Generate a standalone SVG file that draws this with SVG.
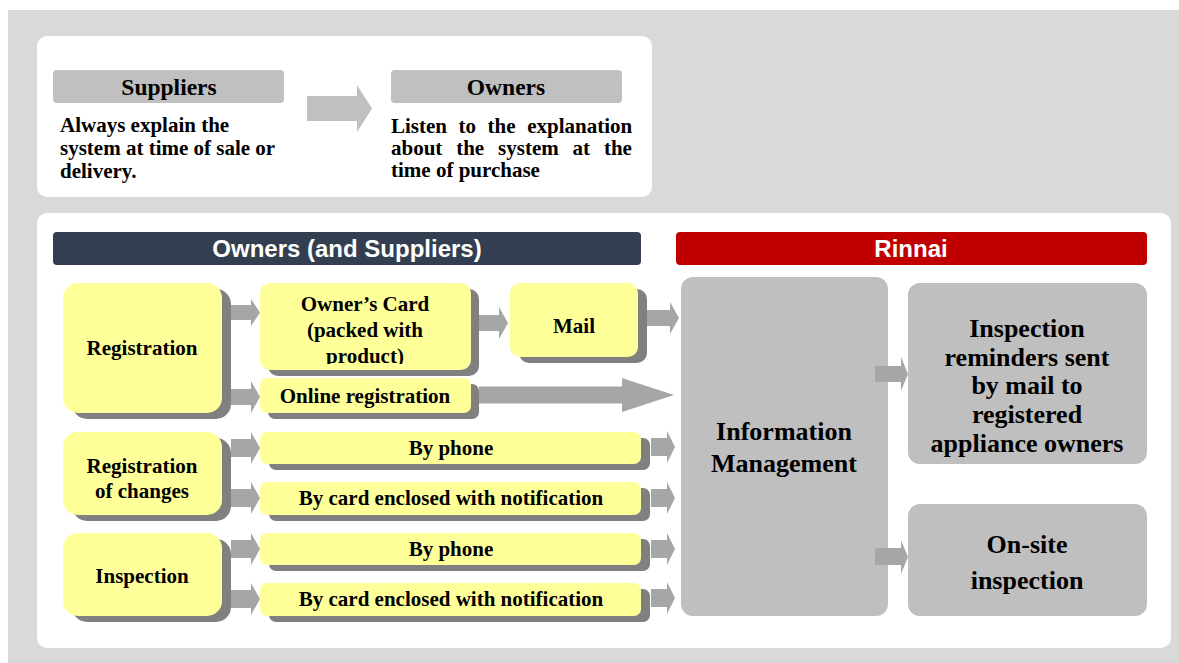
<svg xmlns="http://www.w3.org/2000/svg" width="1179" height="663" viewBox="0 0 1179 663">
<defs>
<style>
.panel{fill:#ffffff}
.hdr{fill:#c0c0c0}
.yb{fill:#ffff99}
.sh{fill:#808080}
.gb{fill:#bfbfbf}
.ar{fill:#a6a6a6}
.t{font-family:"Liberation Serif","Times New Roman",serif;font-weight:bold;font-size:21px;fill:#000}
.tc{text-anchor:middle}
.tl{font-size:26px}
.th{font-size:23.5px}
.h{font-family:"Liberation Sans",Arial,sans-serif;font-weight:bold;font-size:24px;fill:#ffffff;text-anchor:middle}
</style>
<clipPath id="cardClip"><rect x="260" y="283" width="211" height="81"/></clipPath>
</defs>
<rect x="0" y="0" width="1179" height="663" fill="#ffffff"/>
<rect x="8" y="10" width="1171" height="653" fill="#d9d9d9"/>
<rect class="panel" x="37" y="36" width="615" height="161" rx="10"/>
<rect class="panel" x="37" y="213" width="1134" height="435" rx="10"/>

<g id="suppliers">
<rect class="hdr" x="53" y="70" width="231" height="33" rx="4"/>
<text class="t tc th" x="169" y="95">Suppliers</text>
<text class="t" x="60" y="132">Always explain the</text>
<text class="t" x="60" y="155">system at time of sale or</text>
<text class="t" x="60" y="178">delivery.</text>
</g>
<g id="owners">
<rect class="hdr" x="391" y="70" width="231" height="33" rx="4"/>
<text class="t tc th" x="506" y="95">Owners</text>
<text class="t" x="391" y="133" word-spacing="6.3">Listen to the explanation</text>
<text class="t" x="391" y="155" word-spacing="8.6">about the system at the</text>
<text class="t" x="391" y="177">time of purchase</text>
</g>

<g id="header-owners">
<rect x="53" y="232" width="588" height="33" rx="4" fill="#333f50"/>
<text class="h" x="347" y="257">Owners (and Suppliers)</text>
</g>
<g id="header-rinnai">
<rect x="676" y="232" width="471" height="33" rx="4" fill="#c00000"/>
<text class="h" x="911" y="257">Rinnai</text>
</g>

<g id="registration">
<rect class="sh" x="72" y="289" width="159" height="130" rx="15"/>
<rect class="yb" x="63" y="283" width="159" height="130" rx="15"/>
<text class="t tc" x="142" y="355">Registration</text>
</g>
<g id="owners-card">
<rect class="sh" x="268" y="289" width="211" height="87" rx="10"/>
<rect class="yb" x="260" y="283" width="211" height="87" rx="10"/>
<text class="t tc" clip-path="url(#cardClip)"><tspan x="365" y="311">Owner’s Card</tspan><tspan x="365" y="337">(packed with</tspan><tspan x="365" y="363">product)</tspan></text>
</g>
<g id="mail">
<rect class="sh" x="519" y="289" width="128" height="74" rx="10"/>
<rect class="yb" x="510" y="283" width="128" height="74" rx="10"/>
<text class="t tc" x="574" y="333">Mail</text>
</g>
<g id="online">
<rect class="sh" x="268" y="384" width="211" height="35" rx="7"/>
<rect class="yb" x="260" y="378" width="211" height="35" rx="7"/>
<text class="t tc" x="365" y="403">Online registration</text>
</g>

<g id="reg-changes">
<rect class="sh" x="72" y="438" width="159" height="83" rx="15"/>
<rect class="yb" x="63" y="432" width="159" height="83" rx="15"/>
<text class="t tc" x="142" y="473">Registration</text>
<text class="t tc" x="142" y="498">of changes</text>
</g>
<g id="rc-phone">
<rect class="sh" x="269" y="438" width="381" height="32" rx="7"/>
<rect class="yb" x="260" y="432" width="381" height="32" rx="7"/>
<text class="t tc" x="451" y="455">By phone</text>
</g>
<g id="rc-card">
<rect class="sh" x="269" y="488" width="381" height="33" rx="7"/>
<rect class="yb" x="260" y="482" width="381" height="33" rx="7"/>
<text class="t tc" x="451" y="505">By card enclosed with notification</text>
</g>

<g id="inspection">
<rect class="sh" x="72" y="539" width="159" height="83" rx="15"/>
<rect class="yb" x="63" y="533" width="159" height="83" rx="15"/>
<text class="t tc" x="142" y="583">Inspection</text>
</g>
<g id="in-phone">
<rect class="sh" x="269" y="539" width="381" height="32" rx="7"/>
<rect class="yb" x="260" y="533" width="381" height="32" rx="7"/>
<text class="t tc" x="451" y="556">By phone</text>
</g>
<g id="in-card">
<rect class="sh" x="269" y="589" width="381" height="33" rx="7"/>
<rect class="yb" x="260" y="583" width="381" height="33" rx="7"/>
<text class="t tc" x="451" y="606">By card enclosed with notification</text>
</g>

<g id="info-management">
<rect class="gb" x="681" y="277" width="207" height="339" rx="12"/>
<text class="t tc tl" x="784" y="440">Information</text>
<text class="t tc tl" x="784" y="472">Management</text>
</g>
<g id="reminders">
<rect class="gb" x="908" y="283" width="239" height="181" rx="12"/>
<text class="t tc tl" x="1027" y="337">Inspection</text>
<text class="t tc tl" x="1027" y="366">reminders sent</text>
<text class="t tc tl" x="1027" y="394">by mail to</text>
<text class="t tc tl" x="1027" y="423">registered</text>
<text class="t tc tl" x="1027" y="452">appliance owners</text>
</g>
<g id="onsite">
<rect class="gb" x="908" y="504" width="239" height="112" rx="12"/>
<text class="t tc tl" x="1027" y="553">On-site</text>
<text class="t tc tl" x="1027" y="589">inspection</text>
</g>

<g id="connectors">
<polygon fill="#c0c0c0" points="307,96 357,96 357,85 372,108.5 357,132 357,121 307,121"/>
<polygon class="ar" points="231,305 251,305 251,299 260,312.5 251,326 251,320 231,320"/>
<polygon class="ar" points="231,389 251,389 251,381 260,397 251,413 251,405 231,405"/>
<polygon class="ar" points="479,315 499,315 499,307 508,323 499,339 499,331 479,331"/>
<polygon class="ar" points="647,310 670,310 670,302 679,318 670,334 670,326 647,326"/>
<polygon class="ar" points="479,386.5 622,386.5 622,378 674,395 622,412 622,403.5 479,403.5"/>
<polygon class="ar" points="231,439 251,439 251,432 260,448 251,464 251,457 231,457"/>
<polygon class="ar" points="231,489 251,489 251,482 260,498 251,514 251,507 231,507"/>
<polygon class="ar" points="231,540 251,540 251,533 260,549 251,565 251,558 231,558"/>
<polygon class="ar" points="231,590 251,590 251,583 260,599 251,615 251,608 231,608"/>
<polygon class="ar" points="651,438 667,438 667,431 675,447 667,463 667,456 651,456"/>
<polygon class="ar" points="651,489 667,489 667,482 675,498 667,514 667,507 651,507"/>
<polygon class="ar" points="651,540 667,540 667,533 675,549 667,565 667,558 651,558"/>
<polygon class="ar" points="651,589 667,589 667,582 675,598 667,614 667,607 651,607"/>
<polygon class="ar" points="875,366 901,366 901,357 908,374 901,391 901,382 875,382"/>
<polygon class="ar" points="875,548 901,548 901,540 908,557 901,574 901,565 875,565"/>
</g>
</svg>
